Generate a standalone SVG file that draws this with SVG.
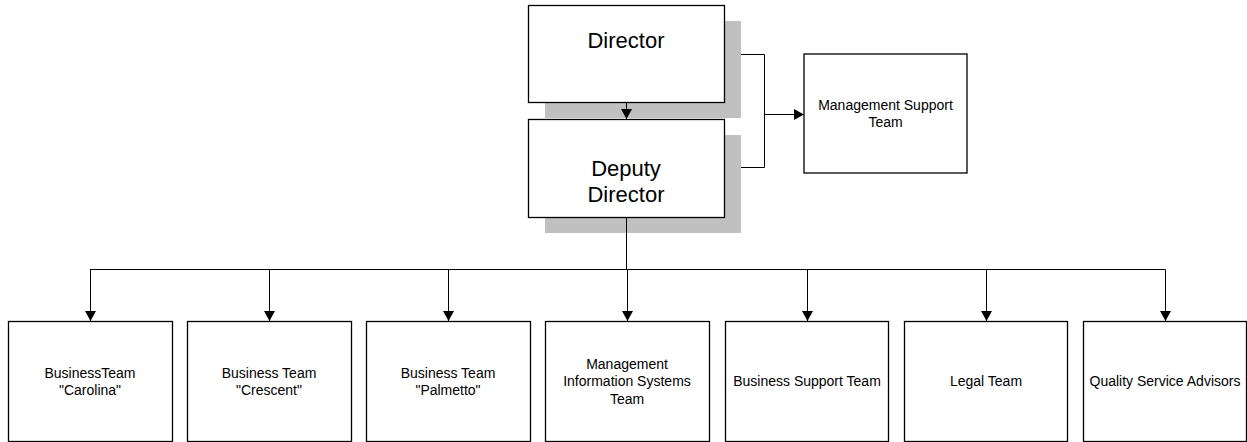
<svg xmlns="http://www.w3.org/2000/svg" width="1247" height="442" viewBox="0 0 1247 442">
<style>
.box{fill:#fff;stroke:#000;stroke-width:1.3}
.shadow{fill:#c0c0c0;stroke:none}
.big{font-family:"Liberation Sans",Arial,sans-serif;font-size:22px;fill:#000;text-anchor:middle}
.lbl{font-family:"Liberation Sans",Arial,sans-serif;font-size:14px;fill:#000;text-anchor:middle}
.conn{fill:none;stroke:#000;stroke-width:1}
</style>
<defs>
<marker id="arr" markerUnits="userSpaceOnUse" markerWidth="10" markerHeight="11" refX="10" refY="5.5" orient="auto" viewBox="0 0 10 11">
<path d="M0,0 L10,5.5 L0,11 z" fill="#000"/>
</marker>
</defs>
<rect x="0" y="0" width="1247" height="442" fill="#fff"/>
<g id="director">
<rect class="shadow" x="545" y="21" width="196" height="97"/>
<rect class="box" x="528.5" y="5.5" width="196" height="97"/>
<text class="big" x="626" y="48">Director</text>
</g>
<g id="deputy-director">
<rect class="shadow" x="545" y="135" width="196" height="98"/>
<rect class="box" x="528.5" y="119.5" width="196" height="98"/>
<text class="big" x="626" y="176">Deputy</text>
<text class="big" x="626" y="202">Director</text>
</g>
<g id="management-support-team">
<rect class="box" x="804" y="54" width="163" height="119"/>
<text class="lbl" x="885.5" y="110">Management Support</text>
<text class="lbl" x="885.5" y="127">Team</text>
</g>
<g id="team-carolina">
<rect class="box" x="8.5" y="321.5" width="164" height="120"/>
<text class="lbl" x="90" y="378">BusinessTeam</text>
<text class="lbl" x="90" y="395">"Carolina"</text>
</g>
<g id="team-crescent">
<rect class="box" x="187.5" y="321.5" width="164" height="120"/>
<text class="lbl" x="269" y="378">Business Team</text>
<text class="lbl" x="269" y="395">"Crescent"</text>
</g>
<g id="team-palmetto">
<rect class="box" x="366.5" y="321.5" width="164" height="120"/>
<text class="lbl" x="448" y="378">Business Team</text>
<text class="lbl" x="448" y="395">"Palmetto"</text>
</g>
<g id="mis-team">
<rect class="box" x="545.5" y="321.5" width="164" height="120"/>
<text class="lbl" x="627" y="369">Management</text>
<text class="lbl" x="627" y="386">Information Systems</text>
<text class="lbl" x="627" y="404">Team</text>
</g>
<g id="business-support-team">
<rect class="box" x="725.5" y="321.5" width="163" height="120"/>
<text class="lbl" x="807" y="386">Business Support Team</text>
</g>
<g id="legal-team">
<rect class="box" x="904.5" y="321.5" width="163" height="120"/>
<text class="lbl" x="986" y="386">Legal Team</text>
</g>
<g id="quality-service-advisors">
<rect class="box" x="1083.5" y="321.5" width="163" height="120"/>
<text class="lbl" x="1165" y="386">Quality Service Advisors</text>
</g>
<g id="connectors">
<line class="conn" x1="626.5" y1="103" x2="626.5" y2="119" marker-end="url(#arr)"/>
<polyline class="conn" points="741,54.5 764.5,54.5 764.5,167.5 741,167.5"/>
<line class="conn" x1="764.5" y1="114.5" x2="804" y2="114.5" marker-end="url(#arr)"/>
<line class="conn" x1="626.5" y1="218" x2="626.5" y2="269.5"/>
<line class="conn" x1="90" y1="269.5" x2="1165.5" y2="269.5"/>
<line class="conn" x1="90.5" y1="269.5" x2="90.5" y2="321" marker-end="url(#arr)"/>
<line class="conn" x1="269.5" y1="269.5" x2="269.5" y2="321" marker-end="url(#arr)"/>
<line class="conn" x1="448.5" y1="269.5" x2="448.5" y2="321" marker-end="url(#arr)"/>
<line class="conn" x1="627.5" y1="269.5" x2="627.5" y2="321" marker-end="url(#arr)"/>
<line class="conn" x1="807.5" y1="269.5" x2="807.5" y2="321" marker-end="url(#arr)"/>
<line class="conn" x1="986.5" y1="269.5" x2="986.5" y2="321" marker-end="url(#arr)"/>
<line class="conn" x1="1165.5" y1="269.5" x2="1165.5" y2="321" marker-end="url(#arr)"/>
</g>
</svg>
